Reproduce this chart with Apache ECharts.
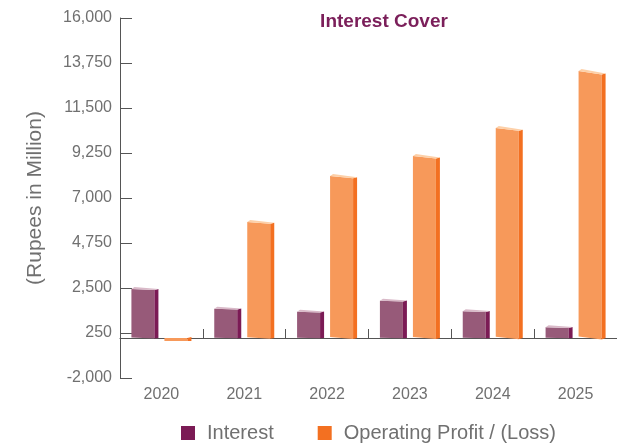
<!DOCTYPE html>
<html>
<head>
<meta charset="utf-8">
<script src="https://cdn.jsdelivr.net/npm/echarts@6/dist/echarts.min.js"></script>
<style>
  html, body { margin: 0; padding: 0; background: #fff; }
  #chart { width: 617px; height: 446px; }
</style>
</head>
<body>
<div id="chart"></div>
<script>
// Chart data (Rupees in Million)
const years = ['2020', '2021', '2022', '2023', '2024', '2025'];
const interest = [2450, 1465, 1315, 1865, 1335, 535];
const operatingProfit = [-150, 5800, 8100, 9100, 10500, 13350];
const yTicks = [-2000, 250, 2500, 4750, 7000, 9250, 11500, 13750, 16000];

// Draw a pseudo 3D bar: front face, dark side and light top
function make3dBar(offset, colors) {
  return function (params, api) {
    const idx = api.value(0);
    const val = api.value(1);
    const top = api.coord([idx, val]);
    const base = api.coord([idx, 0]);
    const x0 = top[0] + offset - 13.5;
    const fw = 23;
    const sw = 4;
    const yt = Math.min(top[1], base[1]);
    const yb = Math.max(top[1], base[1]);
    const h = yb - yt;
    const s = val > 0 ? 0.5 + h / 90 : 0;
    const children = [
      {
        type: 'polygon',
        shape: { points: [[x0, yt], [x0 + fw, yt + s], [x0 + fw, yb + s * 0.4], [x0, yb - s * 0.4]] },
        style: { fill: colors.front },
      },
      {
        type: 'polygon',
        shape: { points: [[x0 + fw, yt + s], [x0 + fw + sw, yt + s - 1], [x0 + fw + sw, yb], [x0 + fw, yb + s * 0.4]] },
        style: { fill: colors.side },
      },
    ];
    if (val > 0) {
      children.push({
        type: 'polygon',
        shape: { points: [[x0, yt], [x0 + 3, yt - 2], [x0 + fw + sw, yt + s - 1], [x0 + fw, yt + s]] },
        style: { fill: colors.top },
      });
    }
    return { type: 'group', children: children };
  };
}

const chart = echarts.init(document.getElementById('chart'));

const font = 'Liberation Sans, Arial, sans-serif';

const option = {
  animation: false,
  title: {
    text: 'Interest Cover',
    left: 379,
    top: 7,
    textAlign: 'center',
    textStyle: {
      color: '#7b1f5a',
      fontSize: 19,
      fontWeight: 'bold',
      fontFamily: font,
    },
  },
  legend: {
    top: 418,
    left: 176,
    icon: 'rect',
    itemWidth: 14,
    itemHeight: 14,
    itemGap: 44,
    textStyle: {
      color: '#707070',
      fontSize: 20,
      fontFamily: font,
      padding: [0, 0, 0, 7],
    },
    data: ['Interest', 'Operating Profit / (Loss)'],
  },
  grid: {
    left: 120,
    right: 0,
    top: 18,
    bottom: 68,
  },
  xAxis: {
    type: 'category',
    data: years,
    axisLine: { onZero: true, lineStyle: { color: '#555', width: 1 } },
    axisTick: { show: true, inside: true, length: 9, lineStyle: { color: '#555' } },
    axisLabel: {
      margin: 9,
      color: '#707070',
      fontSize: 16,
      fontFamily: font,
    },
  },
  yAxis: {
    type: 'value',
    min: yTicks[0],
    max: yTicks[yTicks.length - 1],
    interval: 2250,
    name: '(Rupees in Million)',
    nameLocation: 'middle',
    nameGap: 74,
    nameTextStyle: {
      color: '#707070',
      fontSize: 21,
      fontFamily: font,
    },
    axisLine: { show: true, lineStyle: { color: '#555', width: 1 } },
    axisTick: { show: true, inside: true, length: 12, lineStyle: { color: '#555' } },
    splitLine: { show: false },
    axisLabel: {
      margin: 8,
      color: '#707070',
      fontSize: 16,
      fontFamily: font,
      formatter: function (v) {
        return v.toLocaleString('en-US');
      },
    },
  },
  series: [
    {
      name: 'Interest',
      type: 'custom',
      itemStyle: { color: '#7b1b55' },
      encode: { x: 0, y: 1 },
      data: interest.map((v, i) => [i, v]),
      renderItem: make3dBar(-16.5, { front: '#975a79', side: '#7b1b55', top: '#d9b9c8' }),
    },
    {
      name: 'Operating Profit / (Loss)',
      type: 'custom',
      itemStyle: { color: '#f37021' },
      encode: { x: 0, y: 1 },
      data: operatingProfit.map((v, i) => [i, v]),
      renderItem: make3dBar(16.5, { front: '#f7995a', side: '#f37021', top: '#fdd0a8' }),
    },
  ],
};

chart.setOption(option);
</script>
</body>
</html>
